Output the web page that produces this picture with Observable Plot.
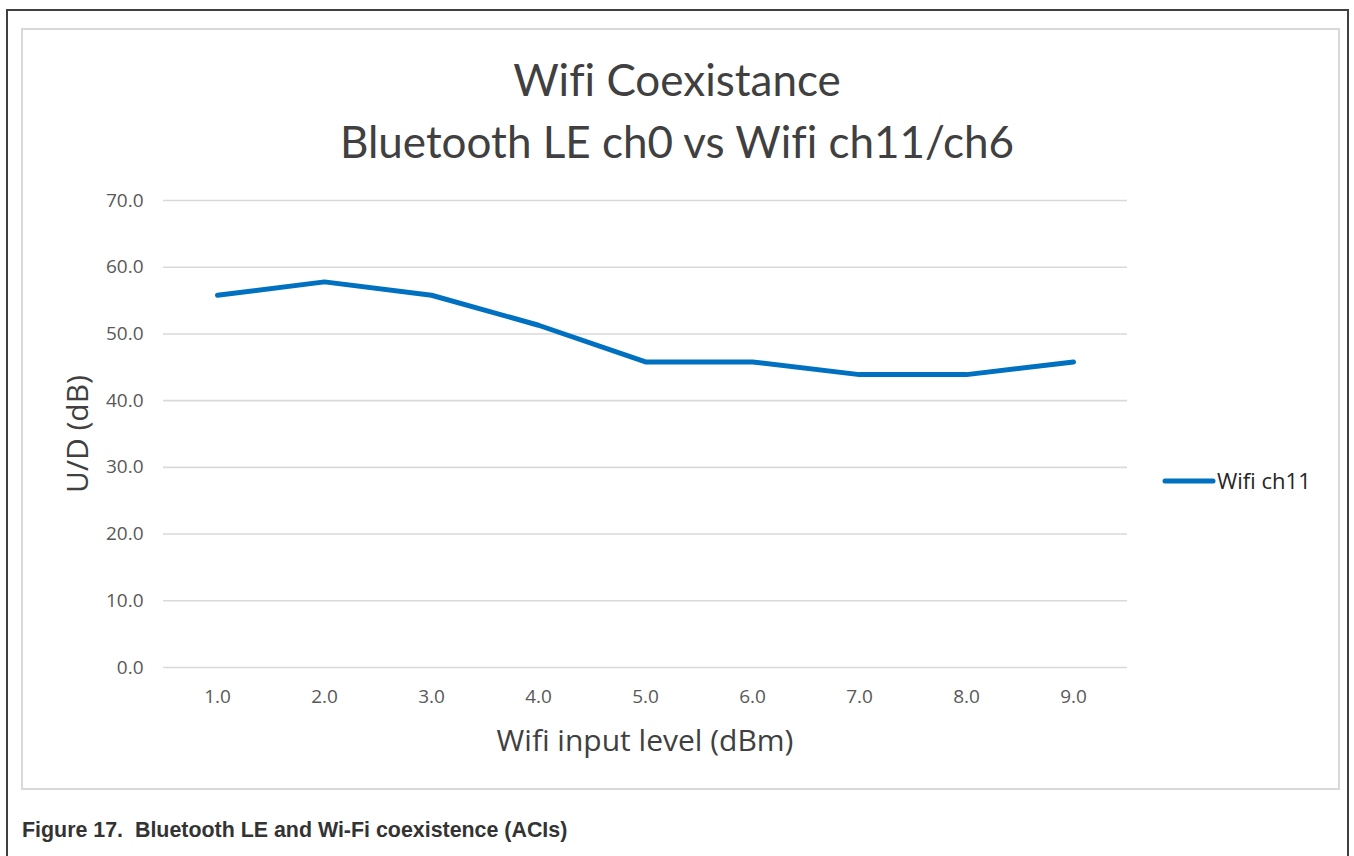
<!DOCTYPE html>
<html>
<head>
<meta charset="utf-8">
<script src="https://cdn.jsdelivr.net/npm/d3@7"></script>
<script src="https://cdn.jsdelivr.net/npm/@observablehq/plot@0.6"></script>
<style>
  html, body { margin: 0; padding: 0; background: #fff; }
  body { width: 1354px; height: 856px; position: relative; overflow: hidden; }
  .outer { position: absolute; left: 6px; top: 9px; width: 1343px; height: 900px; border: 2px solid #404040; box-sizing: border-box; border-bottom: none; }
  .inner { position: absolute; left: 21px; top: 28px; width: 1319px; height: 762px; border: 2px solid #d9d9d9; box-sizing: border-box; }
  .title { position: absolute; left: 0; width: 1354px; text-align: center; font-family: Lato, "Open Sans", sans-serif; color: #404040; font-size: 44px; line-height: 1; font-variant-ligatures: none; }
  .lbl { position: absolute; font-family: "Open Sans", sans-serif; color: #404040; white-space: nowrap; line-height: 1; }
  .caption { position: absolute; left: 22px; top: 818px; font-family: "Liberation Sans", Arial, sans-serif; font-weight: bold; font-size: 21.4px; color: #333; white-space: nowrap; }
  #chart { position: absolute; left: 0; top: 0; }
</style>
</head>
<body>
<div class="outer"></div>
<div class="inner"></div>
<div id="chart"></div>
<div class="title" style="top:57px;">Wifi Coexistance</div>
<div class="title" style="top:119px;">Bluetooth LE ch0 vs Wifi ch11/ch6</div>
<div class="lbl" id="ylab" style="font-size:30px; left:77px; top:434px; transform: translate(-50%,-50%) rotate(-90deg);">U/D (dB)</div>
<div class="lbl" id="xlab" style="font-size:30px; left:645px; top:740px; transform: translate(-50%,-50%);">Wifi input level (dBm)</div>
<div class="caption">Figure 17.&nbsp; Bluetooth LE and Wi-Fi coexistence (ACIs)</div>
<script>
const inputLevels = [1, 2, 3, 4, 5, 6, 7, 8, 9];
const wifiCh11 = [55.8, 57.8, 55.8, 51.3, 45.8, 45.8, 43.9, 43.9, 45.8];
const yTicks = [0, 10, 20, 30, 40, 50, 60, 70];
const seriesName = "Wifi ch11";

const data = inputLevels.map((x, i) => ({x, y: wifiCh11[i], series: seriesName}));

const chart = Plot.plot({
  width: 1354,
  height: 780,
  marginLeft: 163,
  marginRight: 227,
  marginTop: 200,
  marginBottom: 113,
  style: {fontFamily: "'Open Sans', sans-serif", fontSize: "19px", color: "#595959", background: "transparent", overflow: "visible"},
  x: {type: "point", domain: inputLevels, padding: 0.5},
  y: {domain: [0, 70]},
  marks: [
    Plot.gridY(yTicks, {stroke: "#d9d9d9", strokeOpacity: 1, strokeWidth: 1.6}),
    Plot.axisY(yTicks, {tickSize: 0, tickPadding: 20, tickFormat: d => d.toFixed(1), label: null, fill: "#595959"}),
    Plot.axisX(inputLevels, {tickSize: 0, tickPadding: 22, tickFormat: d => d.toFixed(1), label: null, fill: "#595959"}),
    Plot.line(data, {x: "x", y: "y", stroke: "#0070C0", strokeWidth: 5, strokeLinecap: "round", strokeLinejoin: "round"})
  ]
});
document.getElementById("chart").appendChild(chart);

// legend
const legend = d3.select("body").append("svg")
  .style("position", "absolute").style("left", "1150px").style("top", "466px")
  .attr("width", 190).attr("height", 30);
legend.append("line").attr("x1", 15).attr("x2", 63).attr("y1", 15).attr("y2", 15)
  .attr("stroke", "#0070C0").attr("stroke-width", 5).attr("stroke-linecap", "round");
legend.append("text").attr("x", 67).attr("y", 15).attr("dy", "0.35em")
  .attr("font-family", "'Open Sans', sans-serif").attr("font-size", 22).attr("fill", "#262626")
  .text(seriesName);
</script>
</body>
</html>
